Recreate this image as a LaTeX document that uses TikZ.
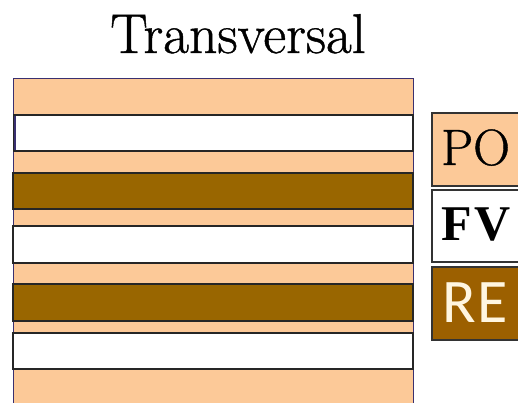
\documentclass[tikz,border=0pt]{standalone}
\usepackage{fontspec}
\setmainfont{Liberation Serif}
\newfontfamily\lmr{Latin Modern Roman}[FakeBold=0.8]
\newfontfamily\sansf{Carlito}
\definecolor{peach}{HTML}{FCC998}
\definecolor{bandbrown}{HTML}{996600}
\definecolor{rebrown}{HTML}{9C6000}
\definecolor{outerline}{HTML}{3A3070}
\definecolor{retext}{HTML}{FFF6E0}
\begin{document}
\begin{tikzpicture}[x=1pt,y=-1pt,
  band/.style={draw=black!85,line width=1.4pt},
  legbox/.style={draw=black!80,line width=1.4pt},
  legtext/.style={anchor=base west,inner sep=0pt}]
\clip (0,0) rectangle (518,403);
\fill[white] (0,0) rectangle (518,403);
% outer column
\draw[fill=peach,draw=outerline,line width=1pt] (13,79) rectangle (413,420);
% bands
\draw[band,fill=white] (14,115) rectangle (413,151);
\draw[outerline,line width=2pt] (15,116) -- (15,150);
\draw[band,fill=bandbrown] (13,173) rectangle (413,209);
\draw[band,fill=white] (13,226) rectangle (413,263);
\draw[band,fill=bandbrown] (13,284) rectangle (413,321);
\draw[band,fill=white] (13,333) rectangle (413,369);
% title
\node[anchor=base,inner sep=0pt] (title) at (238,53) {\fontsize{56}{60}\selectfont\lmr Transversal};
% legend
\draw[legbox,fill=peach] (432,113) rectangle (530,186);
\draw[legbox,fill=white] (432,190) rectangle (530,262);
\draw[legbox,fill=rebrown] (432,267) rectangle (530,340);
\node[legtext] (po) at (441,165) {\fontsize{51}{56}\selectfont\lmr PO};
\node[legtext] (fv) at (441,240) {\fontsize{50}{56}\selectfont\bfseries F\kern3pt V};
\node[legtext,text=retext] (re) at (442,322) {\fontsize{62}{66}\selectfont\sansf R\kern2pt E};
\end{tikzpicture}
\end{document}
